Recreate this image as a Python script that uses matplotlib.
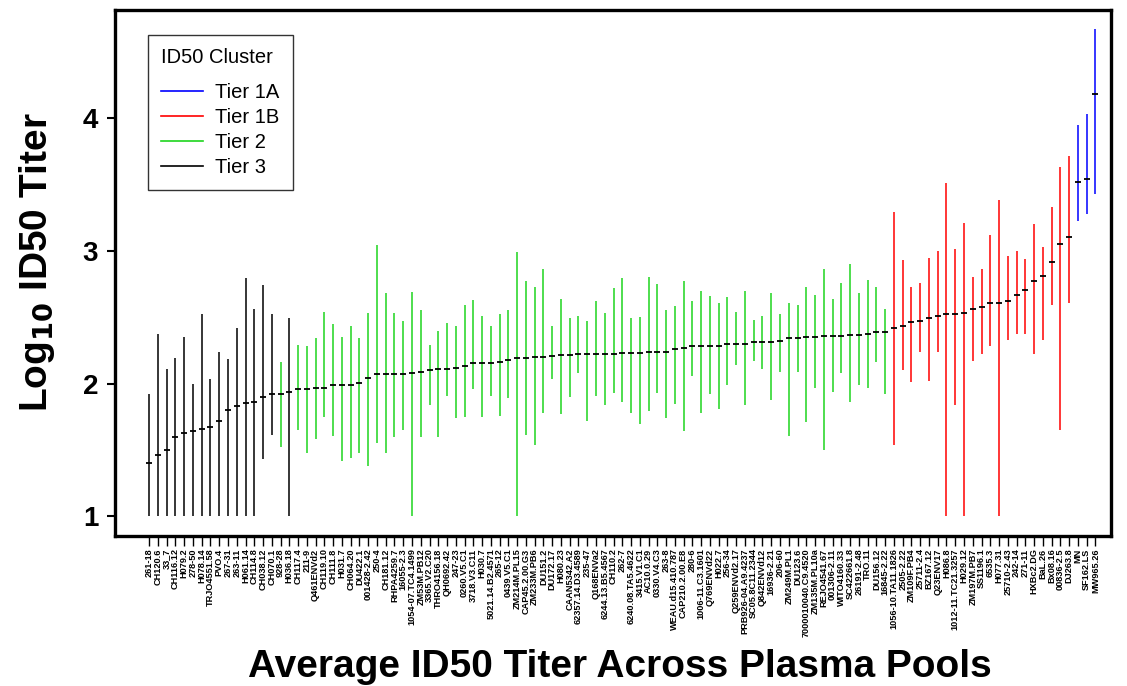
import numpy as np
import matplotlib
matplotlib.use("Agg")
import matplotlib.pyplot as plt
from matplotlib.lines import Line2D

plt.rcParams['font.family'] = ['Liberation Sans', 'DejaVu Sans']

## virus names, left to right
names = [
    '261-18', 'CH120.6', '33_7', 'CH116.12', 'H079.2', '278-50', 'H078.14',
    'TRJO4551.58', 'PVO.4', '267-31', '263-11', 'H061.14', 'CH114.8',
    'CH038.12', 'CH070.1', '928-28', 'H036.18', 'CH117.4', '211-9',
    'Q461ENVd2', 'CH119.10', 'CH111.8', 'H031.7', 'CH064.20', 'DU422.1',
    '001428-2.42', '250-4', 'CH181.12', 'RHPA4259.7', '16055-2.3',
    '1054-07.TC4.1499', 'ZM53M.PB12', '3365.V2.C20', 'THRO4156.18',
    'QH0692.42', '247-23', '0260.V5.C1', '3718.V3.C11', 'H030.7',
    '5021.14.B2.4571', '265-12', '0439.V5.C1', 'ZM214M.PL15', 'CAP45.2.00.G3',
    'ZM233M.PB6', 'DU151.2', 'DU172.17', 'H080.23', 'CAAN5342.A2',
    '62357.14.D3.4589', '235-47', 'Q168ENVa2', '6244.13.B5.4567', 'CH110.2',
    '262-7', '6240.08.TA5.4622', '3415.V1.C1', 'AC10.0.29', '0330.V4.C3',
    '263-8', 'WEAU.d15.410.787', 'CAP210.2.00.E8', '280-6', '1006-11.C3.1601',
    'Q769ENVd22', 'H022.7', '256-34', 'Q259ENVd2.17', 'PRB926-04.A9.4237',
    'SC05.8C11.2344', 'Q842ENVd12', '16936-2.21', '206-60', 'ZM249M.PL1',
    'DU123.6', '7000010040.C9.4520', 'ZM135M.PL10a', 'REJO4541.67',
    '001306-2.11', 'WITO4160.33', 'SC422661.8', '26191-2.48', 'TRO.11',
    'DU156.12', '16845-2.22', '1056-10.TA11.1826', '2505-2.22', 'ZM109F.PB4',
    '25711-2.4', 'BZ167.12', 'Q23ENV17', 'H086.8', '1012-11.TC21.3257',
    'H029.12', 'ZM197M.PB7', 'SS1196.1', '6535.3', 'H077.31', '25710-2.43',
    '242-14', '271-11', 'HXBc2.DG', 'BaL.26', 'Bx08.16', '00836-2.5',
    'DJ263.8', 'MN', 'SF162.LS', 'MW965.26'
]

## average log10 titer
center = [
    1.40, 1.46, 1.50, 1.60, 1.63, 1.64, 1.66, 1.67, 1.72, 1.80, 1.83, 1.855, 1.865, 1.90, 1.92,
    1.92, 1.94, 1.96, 1.96, 1.97, 1.97, 1.99, 1.99, 1.99, 2.005, 2.04, 2.07,
    2.07, 2.07, 2.075, 2.08, 2.09, 2.10, 2.11, 2.11, 2.12, 2.13,
    2.155, 2.155, 2.155, 2.16, 2.18, 2.19, 2.19, 2.20, 2.20, 2.205,
    2.215, 2.215, 2.225, 2.225, 2.225, 2.225, 2.225, 2.23,
    2.23, 2.23, 2.24, 2.24, 2.24, 2.2575, 2.27, 2.28, 2.28, 2.285,
    2.285, 2.295, 2.30, 2.30, 2.31, 2.31, 2.31, 2.32, 2.34, 2.34,
    2.35, 2.35, 2.355, 2.355, 2.355, 2.365, 2.365, 2.37,
    2.39, 2.39, 2.415, 2.435, 2.46, 2.47, 2.495, 2.505, 2.52, 2.52,
    2.53, 2.56, 2.575, 2.61, 2.61, 2.62, 2.67, 2.705, 2.775, 2.81,
    2.915, 3.05, 3.10, 3.52, 3.54, 4.18
]

## top of range
upper = [
    1.92, 2.375, 2.11, 2.19, 2.35, 2.00, 2.525, 2.035, 2.235, 2.185, 2.42, 2.795, 2.56, 2.745, 2.52,
    2.165, 2.49, 2.29, 2.28, 2.34, 2.54, 2.45, 2.35, 2.435, 2.34, 2.53, 3.045,
    2.685, 2.53, 2.47, 2.69, 2.55, 2.29, 2.395, 2.455, 2.43, 2.59,
    2.63, 2.505, 2.435, 2.52, 2.55, 2.99, 2.77, 2.73, 2.865, 2.43,
    2.64, 2.49, 2.505, 2.47, 2.62, 2.53, 2.72, 2.795,
    2.49, 2.4975, 2.80, 2.75, 2.55, 2.585, 2.77, 2.62, 2.70, 2.66,
    2.61, 2.65, 2.54, 2.70, 2.48, 2.505, 2.68, 2.525, 2.61, 2.59,
    2.725, 2.665, 2.86, 2.64, 2.76, 2.90, 2.685, 2.78,
    2.73, 2.56, 3.295, 2.93, 2.73, 2.76, 2.945, 2.995, 3.51, 3.015,
    3.21, 2.80, 2.86, 3.12, 3.38, 2.96, 2.995, 2.935, 3.20, 3.03,
    3.33, 3.63, 3.71, 3.945, 4.03, 4.665
]

## bottom of range
lower = [
    1.0, 1.0, 1.0, 1.0, 1.0, 1.0, 1.0, 1.0, 1.0, 1.0, 1.0, 1.0, 1.0, 1.435, 1.615,
    1.52, 1.0, 1.65, 1.48, 1.58, 1.745, 1.605, 1.42, 1.44, 1.475, 1.38, 1.55,
    1.48, 1.60, 1.65, 1.0, 1.60, 1.84, 1.60, 1.905, 1.74, 1.745,
    1.96, 1.745, 1.91, 1.755, 1.895, 1.0, 1.61, 1.535, 1.78, 2.035,
    1.77, 1.90, 2.08, 1.72, 1.91, 1.835, 1.93, 1.86,
    1.78, 1.695, 1.79, 1.93, 1.74, 1.85, 1.64, 2.055, 1.78, 1.925,
    1.805, 1.99, 2.14, 1.835, 2.17, 2.11, 1.875, 2.09, 1.605, 2.09,
    1.71, 1.965, 1.50, 1.94, 2.08, 1.86, 1.99, 1.97,
    2.16, 1.92, 1.54, 2.105, 2.01, 2.24, 2.02, 2.24, 1.0, 1.84,
    1.0, 2.17, 2.22, 2.28, 1.0, 2.325, 2.375, 2.37, 2.22, 2.325,
    2.59, 1.65, 2.605, 3.225, 3.28, 3.43
]

tiers = ['Tier 3'] * 15 + ['Tier 2'] + ['Tier 3'] + ['Tier 2'] * 68 + ['Tier 1B'] * 21 + ['Tier 1A'] * 3

tier_names = ['Tier 1A', 'Tier 1B', 'Tier 2', 'Tier 3']
tier_colors = {'Tier 1A': '#0000ff', 'Tier 1B': '#ff0000', 'Tier 2': '#1ed41e', 'Tier 3': '#000000'}

x = np.arange(1, len(names) + 1)
center = np.array(center)
upper = np.array(upper)
lower = np.array(lower)
tiers = np.array(tiers)

fig = plt.figure(figsize=(11.27, 6.86), dpi=100)
ax = fig.add_axes([0.102, 0.2187, 0.884, 0.7668])

for t in tier_names:
    m = tiers == t
    ax.vlines(x[m], lower[m], upper[m], color=tier_colors[t], linewidth=1.1)

ax.plot(x, center, linestyle='none', marker='_', markersize=4, markeredgewidth=1.3, color='black')

ax.set_xlim(-2.9, 110.8)
ax.set_ylim(0.853, 4.812)

ax.set_yticks([1, 2, 3, 4])
ax.set_yticklabels(['1', '2', '3', '4'], fontsize=20, fontweight='bold')
ax.tick_params(axis='y', length=6, width=1.5, pad=6)

ax.set_xticks(x)
ax.set_xticklabels(names, rotation=90, fontsize=6.6, fontweight='bold')
ax.tick_params(axis='x', length=7, width=1, pad=2)

for s in ax.spines.values():
    s.set_linewidth(2.4)

ax.set_ylabel('Log$_{\\mathbf{10}}$ ID50 Titer', fontsize=28, fontweight='bold', labelpad=12)
ax.yaxis.set_label_coords(-0.058, 0.52)
fig.text(0.55, 0.028, 'Average ID50 Titer Across Plasma Pools', fontsize=28,
         fontweight='bold', ha='center', va='center')

## legend
handles = [Line2D([0], [0], color=tier_colors[t], linewidth=1.2) for t in tier_names]
leg = ax.legend(handles, tier_names, title='ID50 Cluster', loc='upper left',
                bbox_to_anchor=(0.033, 0.952), borderaxespad=0, fontsize=14.5,
                title_fontsize=14.5, frameon=True, fancybox=False, edgecolor='black',
                handlelength=2.1, handletextpad=0.6, labelspacing=0.3,
                borderpad=0.65, alignment='left')
leg.get_frame().set_linewidth(1.0)
leg._legend_box.sep = 11  ## extra room under the title

fig.savefig('out.png', dpi=100)
